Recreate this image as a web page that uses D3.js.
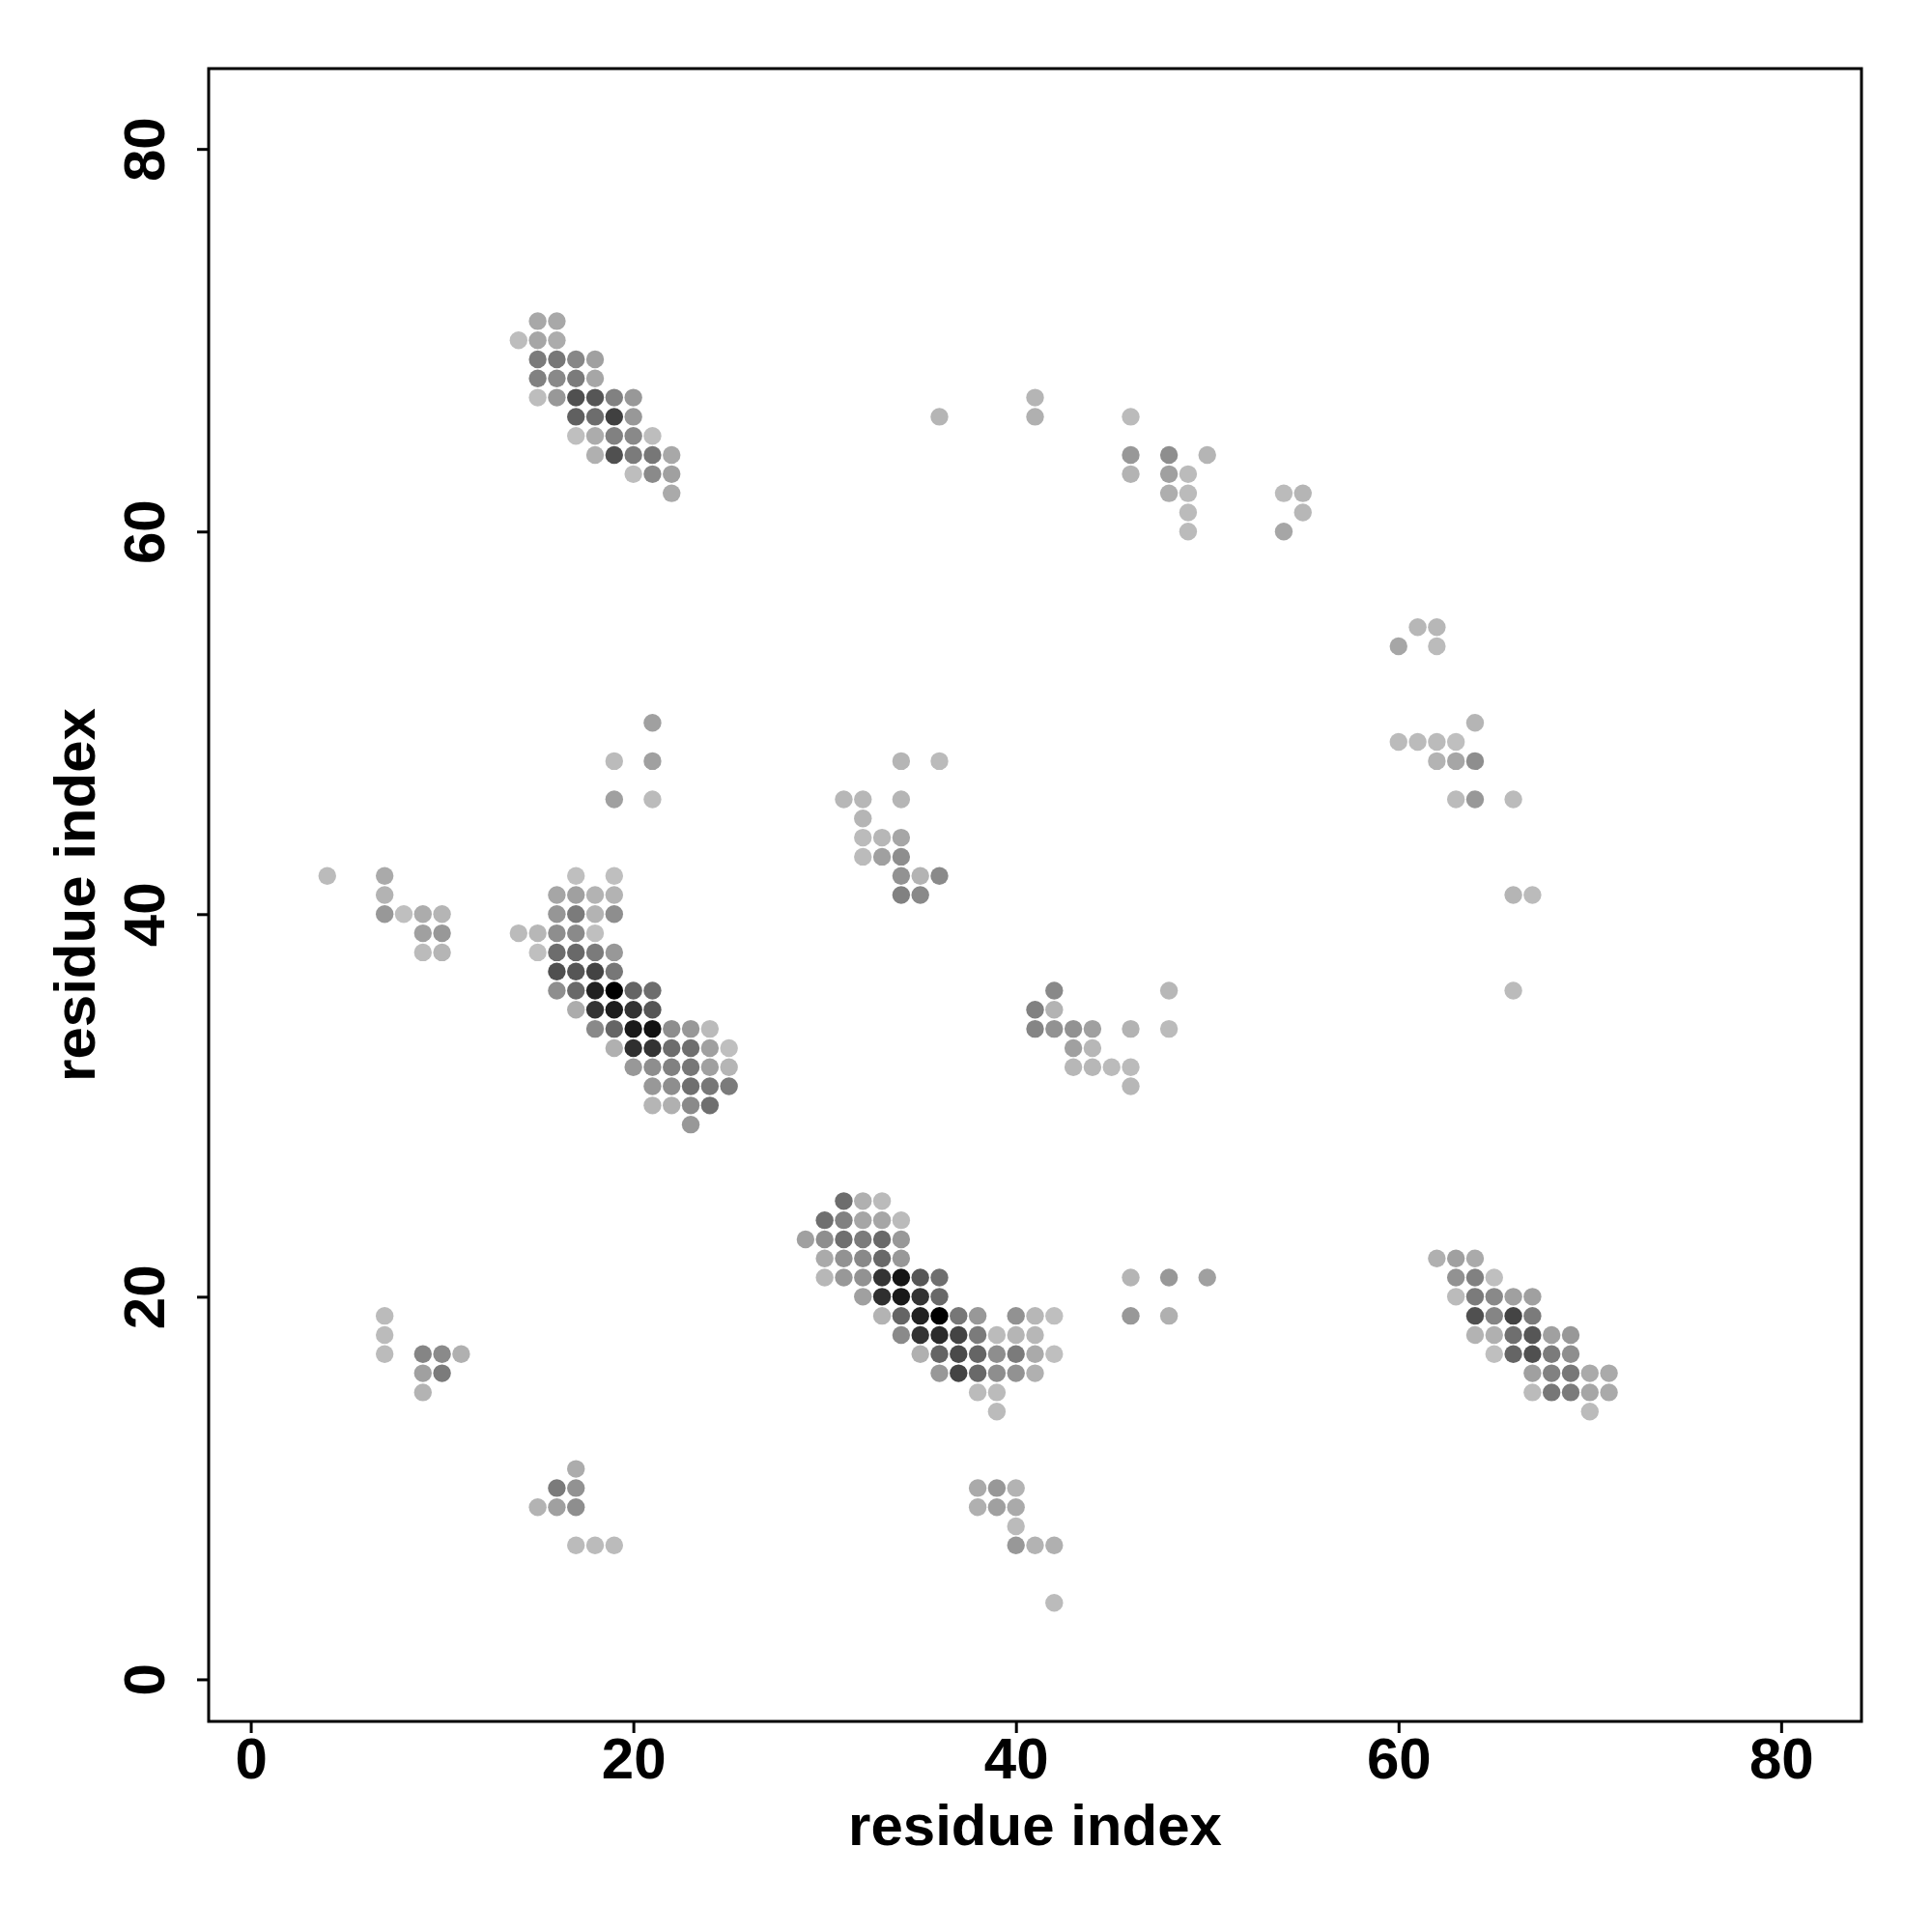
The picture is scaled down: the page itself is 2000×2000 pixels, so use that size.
<!DOCTYPE html>
<html><head><meta charset="utf-8">
<script src="https://cdn.jsdelivr.net/npm/d3@7"></script>
<style>body{margin:0;background:#fff}svg{display:block}</style>
</head><body>
<script>
// Each entry: [residue i (x), residue j (y), contact strength 0-100]
const clusterA = [[15,71,14],[16,71,14],[14,70,3],[15,70,15],[16,70,12],
 [15,69,37],[16,69,39],[17,69,31],[18,69,18],[15,68,34],[16,68,30],[17,68,37],[18,68,15],
 [15,67,3],[16,67,22],[17,67,59],[18,67,56],[19,67,34],[20,67,22],
 [17,66,51],[18,66,44],[19,66,67],[20,66,22],
 [17,65,2],[18,65,12],[19,65,34],[20,65,30],[21,65,3],
 [18,64,10],[19,64,59],[20,64,37],[21,64,39],[22,64,14],
 [20,63,3],[21,63,29],[22,63,18],[22,62,13]];
const clusterB = [[36,66,7],[41,67,7],[41,66,10],[46,66,4],[46,64,22],[48,64,27],[50,64,7],
 [46,63,8],[48,63,18],[49,63,4],[48,62,11],[49,62,4],[54,62,4],[55,62,7],
 [49,61,4],[55,61,6],[49,60,4],[54,60,15]];
const clusterC = [[61,55,6],[62,55,6],[60,54,15],[62,54,4],[64,50,7],
 [60,49,4],[61,49,4],[62,49,4],[63,49,2],[62,48,8],[63,48,15],[64,48,27],
 [63,46,4],[64,46,22],[66,46,4],[66,41,7],[67,41,4],[66,36,4]];
const clusterD = [[4,42,4],[7,42,13],[7,41,8],[7,40,22],[8,40,2],[9,40,12],[10,40,7],
 [9,39,18],[10,39,22],[9,38,4],[10,38,7]];
const clusterE = [[21,50,18],[19,48,4],[21,48,18],[19,46,18],[21,46,4],
 [17,42,2],[19,42,2],
 [16,41,15],[17,41,18],[18,41,8],[19,41,8],
 [16,40,23],[17,40,37],[18,40,8],[19,40,27],
 [14,39,4],[15,39,6],[16,39,27],[17,39,29],[18,39,2],
 [15,38,2],[16,38,44],[17,38,46],[18,38,37],[19,38,22],
 [16,37,59],[17,37,56],[18,37,65],[19,37,39],
 [16,36,27],[17,36,46],[18,36,83],[19,36,100],[20,36,48],[21,36,44],
 [17,35,12],[18,35,74],[19,35,85],[20,35,74],[21,35,56],
 [18,34,30],[19,34,48],[20,34,87],[21,34,91],[22,34,27],[23,34,22],[24,34,4],
 [19,33,10],[20,33,76],[21,33,74],[22,33,44],[23,33,43],[24,33,18],[25,33,2],
 [20,32,22],[21,32,27],[22,32,34],[23,32,39],[24,32,18],[25,32,7],
 [21,31,22],[22,31,27],[23,31,43],[24,31,39],[25,31,37],
 [21,30,7],[22,30,10],[23,30,29],[24,30,43],[23,29,22]];
const clusterF = [[34,48,7],[36,48,4],[31,46,6],[32,46,6],[34,46,7],[32,45,7],
 [32,44,4],[33,44,6],[34,44,15],[32,43,4],[33,43,18],[34,43,27],
 [34,42,25],[35,42,8],[36,42,29],[34,41,34],[35,41,30]];
const clusterG = [[42,36,30],[48,36,6],[41,35,34],[42,35,8],
 [41,34,32],[42,34,25],[43,34,25],[44,34,18],[46,34,8],[48,34,4],
 [43,33,18],[44,33,6],[43,32,6],[44,32,6],[45,32,4],[46,32,4],[46,31,6]];
const clusterH = [[31,25,44],[32,25,10],[33,25,4],
 [30,24,43],[31,24,34],[32,24,15],[33,24,15],[34,24,4],
 [29,23,18],[30,23,27],[31,23,43],[32,23,37],[33,23,46],[34,23,22],
 [30,22,13],[31,22,25],[32,22,30],[33,22,46],[34,22,22],
 [30,21,6],[31,21,22],[32,21,25],[33,21,74],[34,21,89],[35,21,56],[36,21,43],
 [32,20,18],[33,20,76],[34,20,87],[35,20,74],[36,20,46],
 [33,19,8],[34,19,48],[35,19,83],[36,19,100],[37,19,39],[38,19,22],[40,19,25],[41,19,6],[42,19,2],
 [34,18,29],[35,18,74],[36,18,78],[37,18,65],[38,18,37],[39,18,4],[40,18,7],[41,18,6],
 [35,17,10],[36,17,48],[37,17,62],[38,17,48],[39,17,27],[40,17,37],[41,17,13],[42,17,2],
 [36,16,22],[37,16,65],[38,16,46],[39,16,27],[40,16,25],[41,16,10],
 [38,15,4],[39,15,4],[39,14,4]];
const clusterI = [[46,21,7],[48,21,22],[50,21,18],[46,19,22],[48,19,10]];
const clusterJ = [[62,22,10],[63,22,18],[64,22,13],[63,21,25],[64,21,34],[65,21,2],
 [63,20,4],[64,20,37],[65,20,30],[66,20,18],[67,20,18],
 [64,19,59],[65,19,32],[66,19,65],[67,19,37],
 [64,18,8],[65,18,10],[66,18,43],[67,18,56],[68,18,18],[69,18,22],
 [65,17,2],[66,17,48],[67,17,59],[68,17,37],[69,17,27],
 [67,16,18],[68,16,34],[69,16,39],[70,16,13],[71,16,13],
 [67,15,4],[68,15,39],[69,15,37],[70,15,15],[71,15,13],[70,14,4]];
const clusterK = [[7,19,4],[7,18,4],[7,17,4],[9,17,32],[10,17,29],[11,17,10],[9,16,18],[10,16,37],[9,15,8],
 [17,11,12],[16,10,37],[17,10,25],[15,9,8],[16,9,18],[17,9,27],[17,7,4],[18,7,4],[19,7,4]];
const clusterL = [[38,10,13],[39,10,22],[40,10,8],[38,9,10],[39,9,18],[40,9,13],[40,8,4],
 [40,7,22],[41,7,8],[42,7,10],[42,4,4]];

const xTicks = [0, 20, 40, 60, 80];
const yTicks = [0, 20, 40, 60, 80];
const xLabel = "residue index";
const yLabel = "residue index";

const points = [].concat(clusterA, clusterB, clusterC, clusterD, clusterE, clusterF,
  clusterG, clusterH, clusterI, clusterJ, clusterK, clusterL);

const W = 2000, H = 2000;
const L = 216, R = 1927, T = 71, B = 1782;
const font = "'Liberation Sans', Arial, Helvetica, sans-serif";
const fs = 60;

const svg = d3.select("body").append("svg").attr("width", W).attr("height", H);
const x = d3.scaleLinear().domain([-2.2, 84.2]).range([L, R]);
const y = d3.scaleLinear().domain([-2.2, 84.2]).range([B, T]);
const grey = d3.scaleLinear().domain([0, 100]).range(["#c3c3c3", "#000000"]);

svg.append("g").selectAll("circle").data(points).join("circle")
  .attr("cx", d => x(d[0])).attr("cy", d => y(d[1])).attr("r", 9.2)
  .attr("fill", d => grey(d[2]));

// axes
const xAxis = svg.append("g").attr("transform", `translate(0,${B})`)
  .call(d3.axisBottom(x).tickValues(xTicks).tickSize(12).tickPadding(16).tickFormat(d3.format("d")));
const yAxis = svg.append("g").attr("transform", `translate(${L},0)`)
  .call(d3.axisLeft(y).tickValues(yTicks).tickSize(12).tickPadding(16).tickFormat(d3.format("d")));
[xAxis, yAxis].forEach(a => {
  a.select(".domain").remove();
  a.selectAll(".tick line").attr("stroke", "#000").attr("stroke-width", 3);
  a.selectAll("text").attr("font-family", font).attr("font-weight", "bold")
    .attr("font-size", fs).attr("fill", "#000");
});
xAxis.selectAll("text").attr("dy", null).attr("y", 59);
yAxis.selectAll(".tick text").attr("x", null).attr("dy", null)
  .attr("text-anchor", "middle").attr("transform", "translate(-46,0) rotate(-90)");

// box
svg.append("rect").attr("x", L).attr("y", T).attr("width", R - L).attr("height", B - T)
  .attr("fill", "none").attr("stroke", "#000").attr("stroke-width", 3);

// titles
svg.append("text").attr("x", (L + R) / 2).attr("y", 1910).attr("text-anchor", "middle")
  .attr("font-family", font).attr("font-weight", "bold").attr("font-size", fs).text(xLabel);
svg.append("text").attr("transform", `translate(98,${(T + B) / 2}) rotate(-90)`)
  .attr("text-anchor", "middle").attr("font-family", font).attr("font-weight", "bold")
  .attr("font-size", fs).text(yLabel);
</script>
</body></html>
